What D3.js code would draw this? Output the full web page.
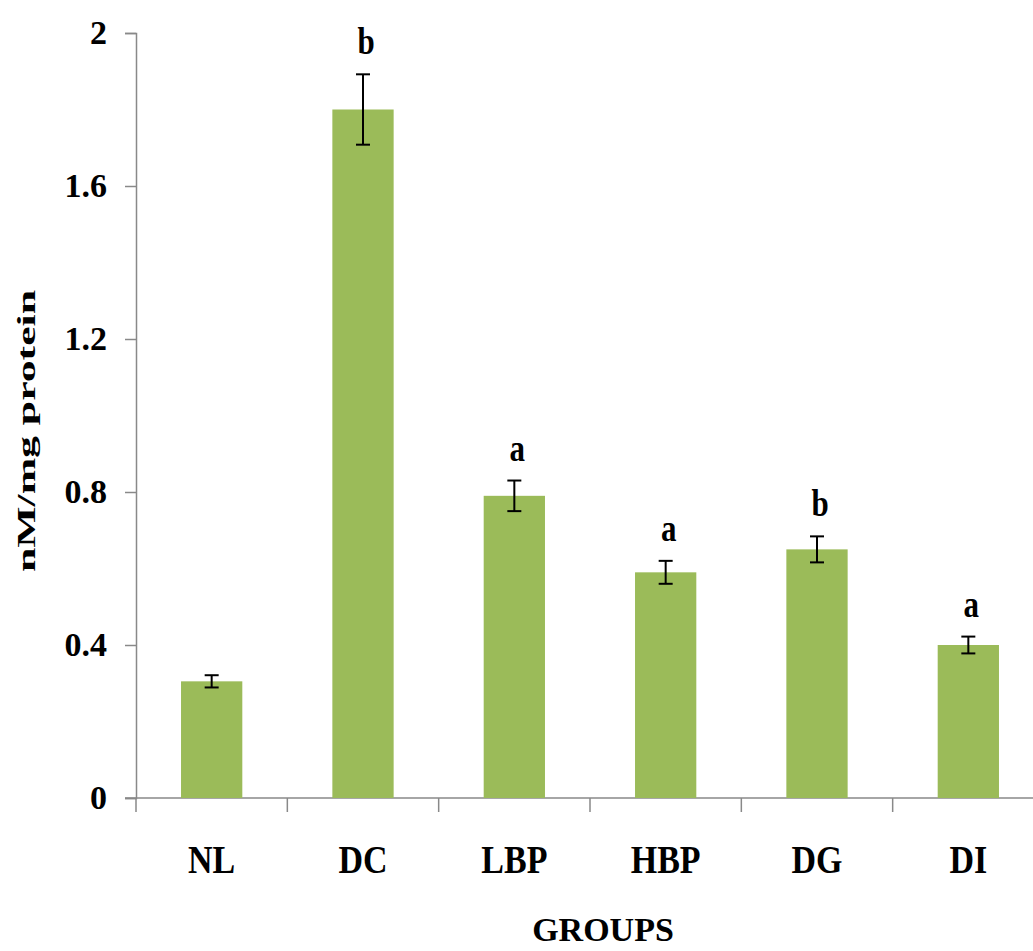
<!DOCTYPE html>
<html>
<head>
<meta charset="utf-8">
<script src="https://cdn.jsdelivr.net/npm/d3@7"></script>
<style>
  html, body { margin: 0; padding: 0; background: #fff; }
  svg text { font-family: "Liberation Serif", "Times New Roman", serif; font-weight: bold; fill: #000; }
</style>
</head>
<body>
<div id="chart"></div>
<script>
const width = 1033;
const height = 951;
const margin = { top: 33, right: -11, bottom: 153, left: 136 };

const groups = ["NL", "DC", "LBP", "HBP", "DG", "DI"];
const values = [0.305, 1.80, 0.79, 0.59, 0.65, 0.40];
const errors = [0.016, 0.092, 0.040, 0.030, 0.034, 0.022];
const letters = ["", "b", "a", "a", "b", "a"];
const yTicks = [0, 0.4, 0.8, 1.2, 1.6, 2];

const data = groups.map((g, i) => ({ g, v: values[i], e: errors[i], l: letters[i] }));

const svg = d3.select("#chart")
  .append("svg")
  .attr("width", width)
  .attr("height", height);

const x = d3.scaleBand()
  .domain(groups)
  .range([margin.left, width - margin.right])
  .padding(0);

const y = d3.scaleLinear()
  .domain([0, 2])
  .range([height - margin.bottom, margin.top]);

const barW = x.bandwidth() * 0.405;
const axisColor = "#898989";

// y axis
const yAxis = svg.append("g")
  .attr("transform", `translate(${margin.left},0)`)
  .call(d3.axisLeft(y).tickValues(yTicks).tickSize(11).tickPadding(18).tickFormat(d3.format("~g")));
yAxis.select(".domain").attr("stroke", axisColor).attr("stroke-width", 1.5);
yAxis.selectAll(".tick line").attr("stroke", axisColor).attr("stroke-width", 1.5);
yAxis.selectAll(".tick text")
  .style("font-size", "34px")
  .style("font-family", "'Liberation Serif', serif")
  .style("font-weight", "bold")
  .attr("fill", "#000");

// x axis
const xAxis = svg.append("g")
  .attr("transform", `translate(0,${y(0)})`);
xAxis.append("line")
  .attr("x1", margin.left - 11)
  .attr("x2", width)
  .attr("stroke", axisColor)
  .attr("stroke-width", 1.5);
xAxis.selectAll(".xt")
  .data(groups)
  .enter()
  .append("line")
  .attr("x1", d => x(d))
  .attr("x2", d => x(d))
  .attr("y1", 0)
  .attr("y2", 14)
  .attr("stroke", axisColor)
  .attr("stroke-width", 1.5);

// category labels
svg.selectAll(".cat")
  .data(groups)
  .enter()
  .append("text")
  .attr("class", "cat")
  .attr("transform", d => `translate(${x(d) + x.bandwidth() / 2},873) scale(1,1.15)`)
  .attr("text-anchor", "middle")
  .style("font-size", "34px")
  .text(d => d);

// bars
svg.selectAll(".bar")
  .data(data)
  .enter()
  .append("rect")
  .attr("class", "bar")
  .attr("x", d => x(d.g) + (x.bandwidth() - barW) / 2)
  .attr("y", d => y(d.v))
  .attr("width", barW)
  .attr("height", d => y(0) - y(d.v))
  .attr("fill", "#9bbb59");

// error bars
const err = svg.selectAll(".err")
  .data(data)
  .enter()
  .append("g")
  .attr("class", "err")
  .attr("stroke", "#000")
  .attr("stroke-width", 2);

err.append("line")
  .attr("x1", d => x(d.g) + x.bandwidth() / 2)
  .attr("x2", d => x(d.g) + x.bandwidth() / 2)
  .attr("y1", d => y(d.v + d.e))
  .attr("y2", d => y(d.v - d.e));

err.append("line")
  .attr("x1", d => x(d.g) + x.bandwidth() / 2 - 7)
  .attr("x2", d => x(d.g) + x.bandwidth() / 2 + 7)
  .attr("y1", d => y(d.v + d.e))
  .attr("y2", d => y(d.v + d.e));

err.append("line")
  .attr("x1", d => x(d.g) + x.bandwidth() / 2 - 7)
  .attr("x2", d => x(d.g) + x.bandwidth() / 2 + 7)
  .attr("y1", d => y(d.v - d.e))
  .attr("y2", d => y(d.v - d.e));

// significance letters
svg.selectAll(".sig")
  .data(data.filter(d => d.l))
  .enter()
  .append("text")
  .attr("class", "sig")
  .attr("transform", d => `translate(${x(d.g) + x.bandwidth() / 2 + 3},${y(d.v + d.e) - 20}) scale(1,1.2)`)
  .attr("text-anchor", "middle")
  .style("font-size", "31px")
  .text(d => d.l);

// axis titles
svg.append("text")
  .attr("transform", "translate(35,431) rotate(-90)")
  .attr("text-anchor", "middle")
  .attr("textLength", 282)
  .attr("lengthAdjust", "spacingAndGlyphs")
  .style("font-size", "26px")
  .text("nM/mg protein");

svg.append("text")
  .attr("transform", "translate(603,941)")
  .attr("text-anchor", "middle")
  .style("font-size", "34px")
  .text("GROUPS");
</script>
</body>
</html>
